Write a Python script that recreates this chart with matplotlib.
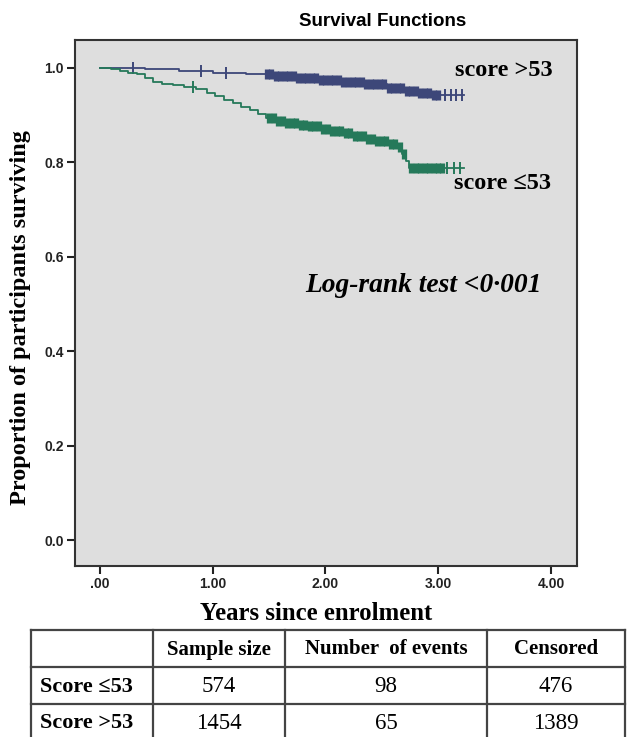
# Kaplan-Meier survival curves by score group, with summary table

import numpy as np
import matplotlib.pyplot as plt


# DATA

# score >53 : step times (years) and survival after each step
hi_times = [0.00, 0.40, 0.70, 1.00, 1.30, 1.55, 1.75, 1.95, 2.15, 2.35, 2.55, 2.70, 2.82, 2.95]
hi_surv = [1.000, 0.997, 0.993, 0.990, 0.986, 0.983, 0.979, 0.974, 0.970, 0.965, 0.958, 0.952, 0.946, 0.942]
hi_end = 3.23
# censored times: isolated ticks and the dense run
hi_cens_sparse = [0.29, 0.90, 1.12, 3.06, 3.11, 3.16, 3.21]
hi_cens_dense = [1.48, 1.52, 1.56, 1.60, 1.64, 1.68, 1.72, 1.76, 1.80, 1.84, 1.88, 1.92, 1.96,
                 2.00, 2.04, 2.08, 2.12, 2.16, 2.20, 2.24, 2.28, 2.32, 2.36, 2.40, 2.44, 2.48,
                 2.52, 2.56, 2.60, 2.64, 2.68, 2.72, 2.76, 2.80, 2.84, 2.88, 2.92, 2.96, 3.00]

# score <=53
lo_times = [0.00, 0.10, 0.18, 0.25, 0.33, 0.40, 0.47, 0.55, 0.65, 0.75, 0.85, 0.95,
            1.02, 1.10, 1.18, 1.25, 1.33, 1.40, 1.47, 1.55, 1.65, 1.75, 1.85, 1.95,
            2.05, 2.15, 2.25, 2.35, 2.45, 2.55, 2.65, 2.68, 2.71, 2.74]
lo_surv = [1.000, 0.997, 0.993, 0.990, 0.986, 0.978, 0.970, 0.966, 0.963, 0.960, 0.955, 0.947,
           0.940, 0.932, 0.925, 0.918, 0.910, 0.902, 0.893, 0.888, 0.884, 0.880, 0.876, 0.871,
           0.866, 0.861, 0.856, 0.850, 0.845, 0.838, 0.832, 0.818, 0.803, 0.788]
lo_end = 3.23
lo_cens_sparse = [0.83, 3.08, 3.14, 3.19]
lo_cens_dense = [1.50, 1.54, 1.58, 1.62, 1.66, 1.70, 1.74, 1.78, 1.82, 1.86, 1.90, 1.94, 1.98,
                 2.02, 2.06, 2.10, 2.14, 2.18, 2.22, 2.26, 2.30, 2.34, 2.38, 2.42, 2.46, 2.50,
                 2.54, 2.58, 2.62, 2.66, 2.70,
                 2.76, 2.80, 2.84, 2.88, 2.92, 2.96, 3.00, 3.03]

y_ticks = [0.0, 0.2, 0.4, 0.6, 0.8, 1.0]
y_ticklabels = ['0.0', '0.2', '0.4', '0.6', '0.8', '1.0']
x_ticks = [0, 1, 2, 3, 4]
x_ticklabels = ['.00', '1.00', '2.00', '3.00', '4.00']

table_header = ['', 'Sample size', 'Number  of events', 'Censored']
table_rows = ['Score \u226453', 'Score >53']
sample_size = [574, 1454]
n_events = [98, 65]
n_censored = [476, 1389]


# STYLE

blue = '#3d4779'
green = '#25795a'
serif = ['Liberation Serif', 'DejaVu Serif']
sans_narrow = ['Liberation Sans Narrow', 'Liberation Sans', 'DejaVu Sans']
sans = ['Liberation Sans', 'DejaVu Sans']


def surv_at(times, surv, t):
    idx = np.searchsorted(times, t, side='right') - 1
    return np.array(surv)[idx]


# PLOTTING

fig = plt.figure(figsize=(6.27, 7.37), dpi=100)
ax = fig.add_axes([75 / 627, 1 - 566 / 737, 502 / 627, 526 / 737])
ax.set_facecolor('#dedede')

groups = [(hi_times, hi_surv, hi_end, hi_cens_sparse, hi_cens_dense, blue),
          (lo_times, lo_surv, lo_end, lo_cens_sparse, lo_cens_dense, green)]
for times, surv, end, sparse, dense, col in groups:
    ax.step(times + [end], surv + [surv[-1]], where='post', color=col, lw=1.3)
    ax.plot(dense, surv_at(times, surv, dense), ls='none', marker='|',
            ms=7.5, mew=3.8, color=col)
    ax.plot(sparse, surv_at(times, surv, sparse), ls='none', marker='|',
            ms=8.5, mew=1.4, color=col)

ax.set_xlim(-0.22, 4.23)
ax.set_ylim(-0.055, 1.059)
ax.set_xticks(x_ticks)
ax.set_xticklabels(x_ticklabels)
ax.set_yticks(y_ticks)
ax.set_yticklabels(y_ticklabels)
ax.tick_params(length=6, width=1.5, color='#222222', labelsize=10, pad=2)
for lab in ax.get_xticklabels() + ax.get_yticklabels():
    lab.set_family(sans_narrow)
    lab.set_fontweight('bold')
    lab.set_color('#222222')
for sp in ax.spines.values():
    sp.set_color('#333333')
    sp.set_linewidth(1.5)

ax.text(3.15, 0.995, 'score >53', family=serif, fontweight='bold', fontsize=17.5,
        ha='left', va='center')
ax.text(3.14, 0.755, 'score \u226453', family=serif, fontweight='bold', fontsize=17.5,
        ha='left', va='center')
ax.text(1.82, 0.54, 'Log-rank test <0\u00b7001', family=serif, fontweight='bold',
        style='italic', fontsize=19.8, ha='left', va='center')

fig.text(383 / 627, 1 - 21 / 737, 'Survival Functions', family=sans, fontweight='bold',
         fontsize=13.5, ha='center', va='center')
fig.text(21 / 627, 1 - 318 / 737, 'Proportion of participants surviving', family=serif,
         fontweight='bold', fontsize=17.5, rotation=90, ha='center', va='center')
fig.text(316 / 627, 1 - 613 / 737, 'Years since enrolment', family=serif,
         fontweight='bold', fontsize=17.8, ha='center', va='center')

# TABLE (pixel coordinates on an overlay axes)
tab = fig.add_axes([0, 0, 1, 1])
tab.set_xlim(0, 627)
tab.set_ylim(737, 0)
tab.axis('off')
col_edges = [31, 153, 285, 487, 625]
row_edges = [630, 667, 704, 741]
lc = '#444444'
for yy in row_edges[:-1]:
    tab.plot([col_edges[0], col_edges[-1]], [yy, yy], color=lc, lw=1.6)
for xx in col_edges:
    tab.plot([xx, xx], [row_edges[0], 737], color=lc, lw=1.6)

for j, head in enumerate(table_header):
    tab.text((col_edges[j] + col_edges[j + 1]) / 2, (row_edges[0] + row_edges[1]) / 2 + 1,
             head, family=serif, fontweight='bold', fontsize=15, ha='center', va='center')
for i, name in enumerate(table_rows):
    yc = (row_edges[i + 1] + row_edges[i + 2]) / 2 + 1
    tab.text(col_edges[0] + 9, yc, name, family=serif, fontweight='bold', fontsize=16,
             ha='left', va='center')
    for j, val in enumerate([sample_size[i], n_events[i], n_censored[i]]):
        tab.text((col_edges[j + 1] + col_edges[j + 2]) / 2, yc, str(val), family=serif,
                 fontsize=16.5, ha='center', va='center')

fig.savefig('out.png', dpi=100)
